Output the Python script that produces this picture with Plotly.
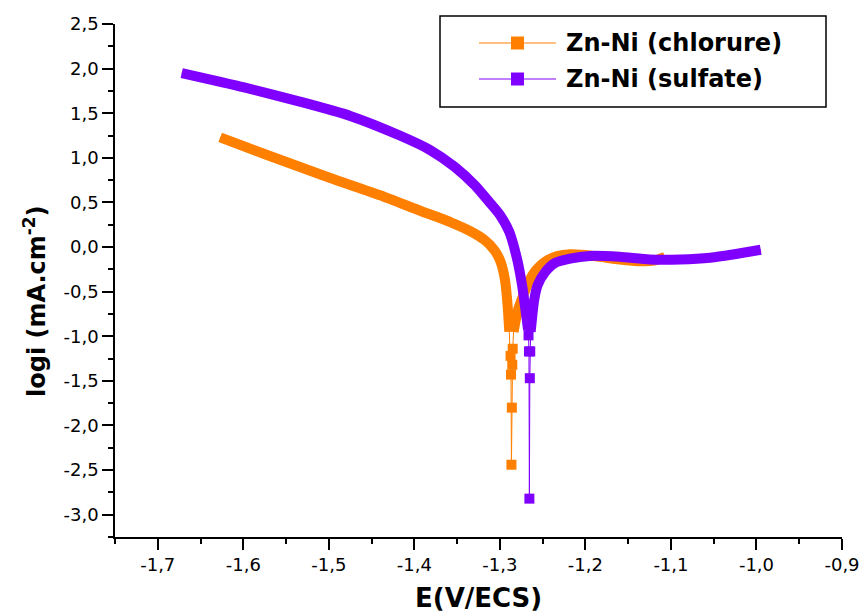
import plotly.graph_objects as go

# Polarisation curves of Zn-Ni deposits: E (V/ECS) vs log i (mA.cm-2)

# --- Zn-Ni (chlorure) ---
cl_cath_E = [-1.627, -1.569, -1.500, -1.440, -1.394, -1.358, -1.335, -1.318,
             -1.306, -1.299, -1.294, -1.291, -1.289]
cl_cath_logi = [1.23, 1.02, 0.78, 0.58, 0.41, 0.28, 0.18, 0.08,
                -0.04, -0.17, -0.37, -0.65, -0.95]
cl_tip_E = [-1.2875, -1.2870, -1.2865, -1.2860, -1.2855, -1.2850]
cl_tip_logi = [-1.22, -1.43, -2.44, -1.80, -1.32, -1.14]
cl_anod_E = [-1.284, -1.279, -1.273, -1.267, -1.261, -1.253, -1.245, -1.233,
             -1.218, -1.200, -1.183, -1.160, -1.136, -1.119, -1.107]
cl_anod_logi = [-0.95, -0.71, -0.55, -0.41, -0.30, -0.21, -0.15, -0.10,
                -0.08, -0.09, -0.11, -0.14, -0.16, -0.15, -0.11]

# --- Zn-Ni (sulfate) ---
su_cath_E = [-1.672, -1.599, -1.534, -1.475, -1.417, -1.382, -1.353, -1.329,
             -1.312, -1.300, -1.289, -1.280, -1.274, -1.270, -1.267]
su_cath_logi = [1.95, 1.79, 1.63, 1.47, 1.25, 1.09, 0.90, 0.69,
                0.50, 0.36, 0.17, -0.13, -0.43, -0.71, -0.93]
su_tip_E = [-1.2665, -1.2660, -1.2655, -1.2650, -1.2645]
su_tip_logi = [-0.99, -1.17, -2.82, -1.47, -1.17]
su_anod_E = [-1.264, -1.260, -1.256, -1.247, -1.236, -1.218, -1.195, -1.160,
             -1.125, -1.089, -1.054, -1.019, -0.995]
su_anod_logi = [-0.95, -0.60, -0.43, -0.28, -0.18, -0.13, -0.10, -0.11,
                -0.14, -0.14, -0.12, -0.07, -0.03]

series = [
    ("Zn-Ni (chlorure)", "#FF8000", cl_cath_E, cl_cath_logi, cl_tip_E, cl_tip_logi, cl_anod_E, cl_anod_logi),
    ("Zn-Ni (sulfate)", "#8000FF", su_cath_E, su_cath_logi, su_tip_E, su_tip_logi, su_anod_E, su_anod_logi),
]

x_ticks = [-1.7, -1.6, -1.5, -1.4, -1.3, -1.2, -1.1, -1.0, -0.9]
x_labels = ["-1,7", "-1,6", "-1,5", "-1,4", "-1,3", "-1,2", "-1,1", "-1,0", "-0,9"]
y_ticks = [2.5, 2.0, 1.5, 1.0, 0.5, 0.0, -0.5, -1.0, -1.5, -2.0, -2.5, -3.0]
y_labels = ["2,5", "2,0", "1,5", "1,0", "0,5", "0,0", "-0,5", "-1,0", "-1,5", "-2,0", "-2,5", "-3,0"]

W, H = 862, 614
M = dict(l=115, r=20, t=24, b=77)
PW, PH = W - M["l"] - M["r"], H - M["t"] - M["b"]


def px(x):
    return (x - M["l"]) / PW


def py(y):
    return (H - M["b"] - y) / PH


fig = go.Figure()

for name, color, cE, cL, tE, tL, aE, aL in series:
    # thin connecting line through the whole sweep
    fig.add_trace(go.Scatter(x=cE + tE + aE, y=cL + tL + aL, mode="lines",
                             line=dict(color=color, width=1), showlegend=False,
                             hoverinfo="skip"))
    # dense data bands (overlapping square symbols)
    for bx, by in ((cE, cL), (aE, aL)):
        fig.add_trace(go.Scatter(x=bx, y=by, mode="lines", name=name,
                                 line=dict(color=color, width=10, shape="spline",
                                           smoothing=0.6),
                                 showlegend=False))
    # isolated points near the corrosion potential
    fig.add_trace(go.Scatter(x=tE, y=tL, mode="markers", name=name,
                             marker=dict(symbol="square", size=10, color=color,
                                         line=dict(width=0)),
                             showlegend=False))

axis_common = dict(showline=True, linecolor="black", linewidth=1.5, ticks="outside",
                   ticklen=11, tickwidth=1.5, tickcolor="black", showgrid=False,
                   zeroline=False, mirror=False, automargin=False,
                   tickfont=dict(family="DejaVu Sans", size=18, color="black"))

fig.update_xaxes(range=[-1.75, -0.9], tickvals=x_ticks, ticktext=x_labels,
                 minor=dict(ticks="outside", ticklen=5, tickwidth=1.5, dtick=0.05,
                            tick0=-1.75, tickcolor="black"),
                 **axis_common)
fig.update_yaxes(range=[-3.25, 2.5], tickvals=y_ticks, ticktext=y_labels,
                 minor=dict(ticks="outside", ticklen=5, tickwidth=1.5, dtick=0.25,
                            tick0=-3.25, tickcolor="black"),
                 **axis_common)

shapes = []
annotations = []

# legend frame
shapes.append(dict(type="rect", xref="paper", yref="paper",
                   x0=px(440), x1=px(826), y0=py(107), y1=py(16),
                   line=dict(color="black", width=1.5), fillcolor="white"))
for i, (name, color, *_rest) in enumerate(series):
    yy = [43, 79][i]
    shapes.append(dict(type="line", xref="paper", yref="paper",
                       x0=px(479), x1=px(556), y0=py(yy), y1=py(yy),
                       line=dict(color=color, width=1)))
    shapes.append(dict(type="rect", xref="paper", yref="paper",
                       x0=px(511), x1=px(524), y0=py(yy + 6.5), y1=py(yy - 6.5),
                       line=dict(width=0), fillcolor=color))
    annotations.append(dict(text=name, xref="paper", yref="paper", x=px(564), y=py(yy),
                            xanchor="left", yanchor="middle", showarrow=False,
                            font=dict(family="DejaVu Sans", size=24, color="black",
                                      weight="bold")))

# axis titles
annotations.append(dict(text="<b>E(V/ECS)</b>", xref="paper", yref="paper",
                        x=px(478), y=py(598), xanchor="center", yanchor="middle",
                        showarrow=False,
                        font=dict(family="DejaVu Sans", size=26, color="black")))
annotations.append(dict(text="<b>logi (mA.cm<sup>-2</sup>)</b>", xref="paper", yref="paper",
                        x=px(35), y=py(302), xanchor="center", yanchor="middle",
                        textangle=-90, showarrow=False,
                        font=dict(family="DejaVu Sans", size=24, color="black")))

fig.update_layout(width=W, height=H, margin=M, plot_bgcolor="white",
                  paper_bgcolor="white", shapes=shapes, annotations=annotations,
                  showlegend=False)

fig.write_html("out.html")
